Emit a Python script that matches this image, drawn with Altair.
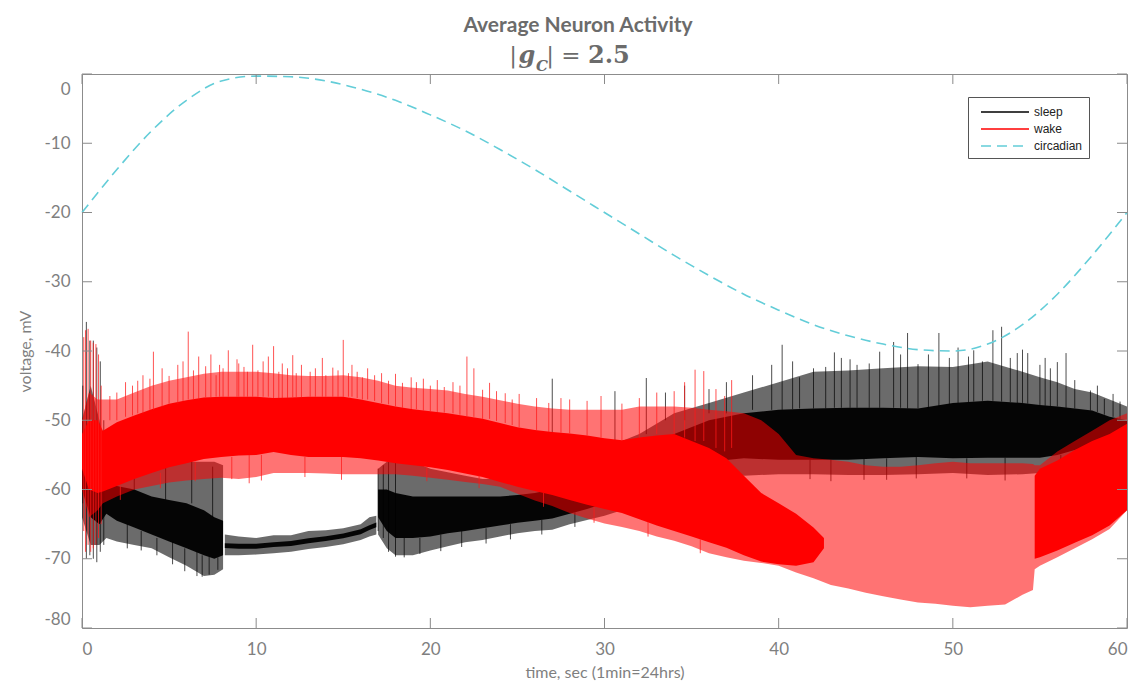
import altair as alt
import pandas as pd

# ---------------- data ----------------
x_ticks = [0, 10, 20, 30, 40, 50, 60]
y_ticks = [-80, -70, -60, -50, -40, -30, -20, -10, 0]

circ_t = [0, 2, 4, 6, 8, 10, 12, 14, 16, 18, 20, 22, 24, 26, 28, 30,
          32, 34, 36, 38, 40, 42, 44, 46, 48, 50, 52, 54, 56, 58, 60]
circ_v = [-20.0, -13.8, -8.2, -3.8, -1.0, -0.3, -0.4, -1.0, -2.2, -3.8, -5.9,
          -8.2, -10.9, -13.8, -16.9, -20.0, -23.1, -26.2, -29.1, -31.8, -34.1,
          -36.2, -37.8, -39.0, -39.8, -40.0, -39.0, -36.2, -31.8, -26.2, -20.0]

# sleep trace: envelopes (outer = sparse hairy band, core = dense band)
sleep_seg = ["A"] * 12 + ["B"] * 11 + ["C"] * 34
sleep_t = [0.0, 0.5, 1.0, 1.4, 2, 3, 4, 5, 6, 7, 7.6, 8.1,
           8.2, 9, 10, 11, 12, 13, 14, 15, 16, 16.5, 16.9,
           17, 17.5, 18, 19, 20, 21, 22, 23, 24, 25, 26, 27, 28, 29, 30, 31,
           32, 34, 36, 38, 40, 42, 44, 46, 48, 50, 52, 54, 55, 56, 57, 58, 59, 60]
sleep_outer_lo = [-64, -68, -68, -67, -67.5, -68, -68.5, -69.8, -71, -72.5, -72.3, -71.5,
                  -69.5, -69.5, -69.4, -69.2, -69.0, -68.6, -68.3, -67.9, -67.3, -66.8, -66.5,
                  -66.5, -68.5, -69.5, -69.5, -68.8, -68.2, -67.6, -67.3, -66.8, -66.3,
                  -66.0, -65.8, -65.0, -64.4, -63.8, -63.0, -62.0, -60.0, -58.5, -58.0,
                  -57.8, -57.8, -57.9, -57.9, -57.8, -57.6, -57.9, -57.8, -57.6, -57.0,
                  -56.0, -55.3, -55.0, -55.0]
sleep_outer_hi = [-50, -45, -50, -56, -56, -56, -56, -56, -56, -56, -56, -56.5,
                  -66.5, -66.8, -67.0, -66.6, -66.6, -66.0, -65.9, -65.6, -65.0, -64.0, -63.8,
                  -57, -56, -55.5, -56, -57, -57.5, -58, -58.5, -58.5, -58.5,
                  -58.5, -58.2, -57.5, -56.5, -55, -53, -52, -49, -47.5, -46,
                  -44.5, -43, -42.8, -42.5, -42.2, -42.3, -41.5, -43, -43.8, -44.5,
                  -45.5, -46, -47, -48]
sleep_core_lo = [-60, -64, -65, -63.5, -64.5, -65.5, -66.5, -67.5, -68.5, -69.5, -70, -69.5,
                 -68.45, -68.55, -68.55, -68.3, -68.15, -67.75, -67.45, -67.05, -66.45, -65.85, -65.45,
                 -64, -66, -67, -67, -66.8, -66.3, -66, -65.6, -65.2, -64.8,
                 -64.5, -64.2, -63.5, -62.8, -62, -61, -59, -57, -56, -55.5,
                 -55.7, -55.7, -55.7, -55.5, -55.3, -55.5, -55.4, -55.4, -55.4, -55,
                 -54.3, -53.8, -53.7, -53.5]
sleep_core_hi = [-55, -52, -55, -58.5, -59.5, -60, -61, -61.5, -62, -63, -64, -64.5,
                 -67.75, -67.85, -67.85, -67.6, -67.45, -67.05, -66.75, -66.35, -65.75, -65.15, -64.75,
                 -60, -60, -60.5, -61, -61, -61, -61, -61, -61, -60.8,
                 -60.5, -60, -59.5, -59, -58, -57, -55, -52, -50, -49,
                 -48.5, -48.3, -48.2, -48.2, -48.3, -47.5, -47.2, -47.5, -47.8, -48,
                 -48.3, -48.6, -49.5, -50]

sleep_spike_t = [0.05, 0.25, 0.45, 0.65, 0.85, 1.05, 1.25, 17.0, 17.3, 17.6, 18.0,
                 27.0, 30.6, 32.4, 33.5, 34.6, 36.0, 37.0, 38.5, 40.2, 41.2, 42.0,
                 42.7, 43.6, 44.5, 45.2, 45.8, 46.6, 47.4, 48.0, 48.6, 49.2, 49.8,
                 50.3, 51.2, 51.7, 52.3, 52.8, 53.3, 53.7, 54.3, 55.0, 55.6, 56.5,
                 57.0, 57.9, 58.7, 59.6,
                 2.6, 3.4, 4.3, 5.2, 5.9, 6.6, 6.9, 7.3, 7.8,
                 3.0, 4.8, 6.3, 7.5,
                 18.5, 19.4, 20.6, 21.8, 23.2, 24.6, 26.4, 28.3,
                 41.8, 43.0, 44.9, 46.2, 47.9, 50.8, 53.0, 56.2,
                 39.6, 40.8, 43.2, 44.1, 47.0, 50.9, 54.0, 55.3, 56.0, 58.3, 59.2]
sleep_spike_lo = [-62, -70, -69.5, -70, -70.5, -69, -68, -66, -67, -69, -69.7,
                  -58, -55, -52, -50, -50, -49, -49, -48.5, -48.5, -48.3, -48.3,
                  -48.3, -48.2, -48.2, -48.2, -48.2, -48.2, -48.3, -48.3, -48.3, -48, -47.8,
                  -47.5, -47.3, -47.2, -47.2, -47.3, -47.4, -47.5, -47.6, -47.8, -48, -48.2,
                  -48.3, -48.6, -49.2, -49.8,
                  -65, -66, -67, -67.5, -68.5, -69, -69.5, -69.7, -69.8,
                  -60, -61.5, -62, -64,
                  -67, -67, -66.5, -66, -65.6, -65, -64.4, -63.3,
                  -55.7, -55.7, -55.6, -55.5, -55.3, -55.5, -55.4, -55,
                  -48.5, -48.4, -48.2, -48.2, -48.2, -47.4, -47.5, -47.9, -48, -48.8, -49.5]
sleep_spike_hi = [-45, -35.8, -38.5, -38.5, -39.5, -41.5, -50, -57, -56.5, -56, -56,
                  -44, -45.8, -43.9, -46, -45, -45.5, -44.5, -43.5, -39.1, -43.8, -42.5,
                  -42.3, -41, -42, -41.8, -40.1, -38.7, -37.4, -41.9, -40.5, -37.4, -41.0,
                  -39.5, -39.9, -41.5, -37.0, -36.5, -41, -40.3, -40.3, -42.0, -42.5, -40.3,
                  -44.2, -45.7, -46.9, -47.3,
                  -68.5, -68.8, -69.5, -70.8, -71.8, -72.5, -72.6, -72.3, -71.6,
                  -56.5, -56.5, -55.8, -56.7,
                  -69.8, -69.3, -68.9, -68.3, -67.8, -67.2, -66.5, -65.4,
                  -58.5, -58.8, -58.6, -58.6, -58.4, -58.4, -58.7, -57.9,
                  -42, -41.5, -40.2, -41.2, -40.5, -40.8, -39.8, -41.0, -41.6, -45.0, -46.2]

# wake trace
wake_t = [0, 0.4, 0.9, 1.2, 2, 3, 4, 5, 6, 7, 8, 9, 10, 11, 12, 13, 14, 15, 16, 17,
          18, 19, 20, 21, 22, 23, 24, 25, 26, 27, 28, 29, 30, 31, 32, 33, 34, 35, 36,
          37, 38, 39, 40, 41, 42, 43, 44, 45, 46, 47, 48, 49, 50, 51, 52, 53, 54,
          54.6, 54.7, 55, 56, 57, 58, 59, 60]
wake_outer_lo = [-60, -64, -63, -62, -61, -60, -59.5, -59, -58.7, -58.5, -58.3, -58.5,
                 -58.2, -57.6, -57.6, -57.6, -57.7, -57.8, -57.8, -57.8, -57.8, -58,
                 -58.3, -58.6, -58.9, -59.2, -59.6, -60.6, -61.6, -62.4, -63.4, -64.2,
                 -64.9, -65.4, -66, -66.8, -67.4, -68.2, -69.2, -69.8, -70.3, -70.6,
                 -71, -72, -72.8, -73.8, -74.3, -74.9, -75.4, -75.9, -76.3, -76.5,
                 -76.8, -77, -76.8, -76.6, -75.2, -74.5, -71.5, -71, -69.8, -68.5,
                 -67.2, -65.7, -63]
wake_outer_hi = [-50, -46, -47, -47, -47, -46, -45, -44.3, -43.8, -43.3, -43, -43,
                 -43, -43.2, -43.5, -43.6, -43.6, -43.5, -43.8, -44.3, -45, -45.3,
                 -45.5, -45.7, -46.2, -46.6, -47.1, -47.6, -48, -48.3, -48.5, -48.5,
                 -48.5, -48.5, -48, -48, -48, -48.2, -48.5, -48.7, -49, -50,
                 -52, -55, -55.5, -55.7, -56, -56.5, -56.7, -56.7, -56.5, -56.2,
                 -56, -56.2, -56.2, -56.2, -56.2, -56.3, -56.5, -56.5, -54.5, -53,
                 -51.5, -50, -49]

wake_core_seg = ["W1"] * 46 + ["W2"] * 7
wake_core_t = [0, 0.4, 0.9, 1.2, 2, 3, 4, 5, 6, 7, 8, 9, 10, 11, 12, 13, 14, 15, 16, 17,
               18, 19, 20, 21, 22, 23, 24, 25, 26, 27, 28, 29, 30, 31, 32, 33, 34, 35,
               36, 37, 38, 39, 40, 41, 42, 42.6,
               54.7, 55, 56, 57, 58, 59, 60]
wake_core_lo = [-57, -60, -60.5, -60.3, -59.5, -58.5, -57.6, -56.8, -56.2, -55.6, -55.3,
                -55.1, -55, -54.6, -55, -55.3, -55.3, -55.3, -55.5, -55.8, -56.2, -56.5,
                -56.8, -57.2, -57.7, -58.2, -58.9, -59.6, -60.2, -60.8, -61.5, -62.2,
                -62.8, -63.4, -64.3, -65.2, -66, -66.8, -67.6, -68.4, -69.5, -70.4,
                -70.8, -71, -70.5, -68.5,
                -70, -69.8, -68.8, -67.7, -66.6, -65.2, -63]
wake_core_hi = [-52, -50, -50, -51.5, -50.3, -49.3, -48.4, -47.6, -47.1, -46.7, -46.6,
                -46.6, -46.6, -46.8, -46.7, -46.6, -46.6, -46.6, -47, -47.5, -48, -48.4,
                -48.7, -49, -49.4, -49.8, -50.4, -51, -51.4, -51.7, -51.9, -52.2,
                -52.6, -52.9, -52.5, -52.2, -52, -53, -54, -55.5, -58, -60.5,
                -62, -63.5, -65.5, -67,
                -58, -57, -55.8, -54.3, -53, -52, -50.5]

wake_spike_t = [0.1, 0.2, 0.35, 0.5, 0.65, 0.8, 0.95, 1.1, 1.6, 2.5, 3.5, 4.1, 4.6,
                5.5, 6.1, 6.7, 7.4, 7.9, 8.4, 8.9, 9.3, 9.8, 10.4, 11.0, 11.5, 12.1,
                12.6, 13.4, 13.8, 14.4, 15.0, 15.5, 16.4, 17.2, 18.0, 18.9, 19.6, 20.4,
                21.3, 22.1, 22.5, 23.4, 24.3, 25.1, 26.1, 28.0, 29.8, 33.0, 35.2, 35.7,
                37.3, 9.6,
                2.0, 2.9, 3.2, 3.9, 5.0, 5.8, 6.4, 7.1, 7.7, 8.1, 9.0, 9.5, 10.1, 10.7,
                11.3, 11.8, 12.3, 13.1, 14.0, 14.7, 15.3, 15.8, 16.1, 16.8, 17.6, 18.4,
                19.2, 20.0, 20.8, 21.7, 23.0, 23.8, 24.7, 26.8, 27.5, 29.0, 31.0, 32.0,
                34.0, 34.6, 36.4, 36.9,
                2.2, 4.5, 6.5, 8.6, 10.3, 12.8, 14.9, 19.8, 22.8, 26.5, 29.4, 32.5, 35.5]
wake_spike_lo = [-66, -69, -68, -69, -68.5, -68, -67, -65, -50, -49.5, -49, -48.5, -48,
                 -47.6, -47, -47, -46.7, -46.6, -46.6, -46.6, -46.6, -46.6, -46.6, -46.8,
                 -46.8, -46.7, -46.7, -46.6, -46.6, -46.6, -46.6, -46.6, -47, -47.5, -48,
                 -48.4, -48.6, -48.8, -49, -49.4, -49.5, -49.8, -50.4, -51, -51.4, -51.9,
                 -52.5, -52, -53, -53, -54, -55,
                 -50, -49.3, -49, -48.5, -47.6, -47.2, -47, -46.7, -46.6, -46.6, -46.6,
                 -46.6, -46.6, -46.6, -46.8, -46.8, -46.7, -46.6, -46.6, -46.6, -46.6,
                 -46.8, -47, -47.2, -47.7, -48.2, -48.4, -48.7, -48.9, -49.2, -49.8,
                 -50.1, -50.7, -51.7, -51.8, -52.2, -52.9, -52.5, -52, -52.5, -54, -54.5,
                 -59.5, -57.6, -56, -55.3, -55, -55.3, -55.3, -56.8, -58, -60.5, -62.5,
                 -64.7, -67.2]
wake_spike_hi = [-38, -37, -36.8, -38.5, -38.8, -39, -40.5, -45, -46.5, -44.5, -43.5,
                 -40.1, -42.5, -42.0, -37.2, -40.8, -40.5, -42, -39.9, -41.2, -42.3,
                 -39.1, -41.5, -39.3, -41.8, -40.6, -42, -42.5, -41.0, -42.4, -38.4,
                 -42, -42.5, -43.2, -43.3, -43.8, -44.0, -44.2, -44.5, -40.8, -42.5,
                 -44.6, -46.1, -46.2, -46.8, -47.0, -46.5, -46.0, -42.7, -42.9, -44.2,
                 -59.1,
                 -46, -45.0, -44.3, -44.0, -43.6, -41.5, -42.8, -42.2, -43.5, -42.5,
                 -41.8, -43, -42.8, -40.8, -43, -42.5, -43.2, -43, -43.5, -42.8, -43.2,
                 -43.0, -43.8, -43.5, -44.3, -44.6, -44.5, -45.0, -45.2, -45.0, -45.6,
                 -45.8, -47.0, -47.5, -46.8, -47.2, -47.6, -46.8, -45.8, -44.5, -45.5,
                 -46.5,
                 -61.5, -59.8, -58.8, -58.5, -58.7, -58.2, -58.6, -58.8, -59.8, -62.5,
                 -64.8, -66.8, -69.2]

series_names = ["sleep", "wake", "circadian"]
series_colors = ["#000000", "#ff0000", "#63cdd8"]

# ---------------- tables ----------------
sleep_df = pd.DataFrame({"t": sleep_t, "seg": sleep_seg, "olo": sleep_outer_lo,
                         "ohi": sleep_outer_hi, "clo": sleep_core_lo, "chi": sleep_core_hi})
sleep_sp = pd.DataFrame({"t": sleep_spike_t, "lo": sleep_spike_lo, "hi": sleep_spike_hi})
wake_df = pd.DataFrame({"t": wake_t, "olo": wake_outer_lo, "ohi": wake_outer_hi})
wake_core = pd.DataFrame({"t": wake_core_t, "seg": wake_core_seg,
                          "clo": wake_core_lo, "chi": wake_core_hi})
wake_sp = pd.DataFrame({"t": wake_spike_t, "lo": wake_spike_lo, "hi": wake_spike_hi})
circ_df = pd.DataFrame({"t": circ_t, "v": circ_v, "series": ["circadian"] * len(circ_t)})
xt_df = pd.DataFrame({"t": x_ticks})
yt_df = pd.DataFrame({"v": y_ticks})

W, H = 1045, 554
GRAY = "#7f7f7f"
TICK = "#8a8a8a"

x_scale = alt.Scale(domain=[0, 60], nice=False, zero=False)
y_scale = alt.Scale(domain=[-80, 0], nice=False, zero=False)

x_axis = alt.Axis(values=x_ticks, title="time, sec (1min=24hrs)", domain=False, ticks=False,
                  grid=False, labelFont="Lato", labelFontSize=17, labelColor=GRAY,
                  labelPadding=13, titleFont="Lato", titleFontSize=16, titleColor=GRAY,
                  titleFontWeight="normal", titlePadding=7)
y_axis = alt.Axis(values=y_ticks, title="voltage, mV", domain=False, ticks=False,
                  grid=False, labelFont="Lato", labelFontSize=17, labelColor=GRAY,
                  labelPadding=12, labelFlush=True, labelExpr="'' + datum.value",
                  labelOffset=alt.condition("datum.value == 0", alt.value(7), alt.value(0)),
                  titleFont="Lato", titleFontSize=16, titleColor=GRAY,
                  titleFontWeight="normal", titlePadding=10)


def X(field="t"):
    return alt.X(f"{field}:Q", scale=x_scale, axis=x_axis)


def Y(field):
    return alt.Y(f"{field}:Q", scale=y_scale, axis=y_axis)


sleep_outer = alt.Chart(sleep_df).mark_area(color="#000000", opacity=0.58).encode(
    x=X(), y=Y("olo"), y2="ohi:Q", detail="seg:N")
sleep_core_l = alt.Chart(sleep_df).mark_area(color="#000000", opacity=0.95).encode(
    x=X(), y=Y("clo"), y2="chi:Q", detail="seg:N")
sleep_spikes = alt.Chart(sleep_sp).mark_rule(color="#000000", strokeWidth=1, opacity=0.7).encode(
    x=X(), y=Y("lo"), y2="hi:Q")

wake_outer = alt.Chart(wake_df).mark_area(color="#ff0000", opacity=0.55).encode(
    x=X(), y=Y("olo"), y2="ohi:Q")
wake_core_l = alt.Chart(wake_core).mark_area(color="#ff0000", opacity=1).encode(
    x=X(), y=Y("clo"), y2="chi:Q", detail="seg:N")
wake_spikes = alt.Chart(wake_sp).mark_rule(color="#ff1a1a", strokeWidth=1, opacity=0.75).encode(
    x=X(), y=Y("lo"), y2="hi:Q")

leg = alt.Legend(title=None, orient="none", legendX=886, legendY=23,
                 symbolType="M-3,0H3", symbolSize=256, symbolStrokeWidth=1.5,
                 labelFont="Liberation Sans", labelFontSize=12, labelColor="#222222",
                 strokeColor="#555555", fillColor="#ffffff", padding=6, rowPadding=2,
                 symbolOffset=22, labelOffset=20)

circ = alt.Chart(circ_df).mark_line(strokeWidth=1.6, interpolate="monotone").encode(
    x=X(), y=Y("v"),
    color=alt.Color("series:N", scale=alt.Scale(domain=series_names, range=series_colors),
                    legend=leg),
    strokeDash=alt.StrokeDash("series:N",
                              scale=alt.Scale(domain=series_names,
                                              range=[[1, 0], [1, 0], [10, 6]]),
                              legend=leg))

tick_bottom = alt.Chart(xt_df).mark_rule(color=TICK, strokeWidth=1).encode(
    x=X(), y=alt.value(H), y2=alt.value(H - 10))
tick_top = alt.Chart(xt_df).mark_rule(color=TICK, strokeWidth=1).encode(
    x=X(), y=alt.value(0), y2=alt.value(10))
tick_left = alt.Chart(yt_df).mark_rule(color=TICK, strokeWidth=1).encode(
    y=Y("v"), x=alt.value(0), x2=alt.value(10))
tick_right = alt.Chart(yt_df).mark_rule(color=TICK, strokeWidth=1).encode(
    y=Y("v"), x=alt.value(W - 10), x2=alt.value(W))

TCOL = "#6b6b6b"
title_main = alt.Chart(pd.DataFrame({"s": ["Average Neuron Activity"]})).mark_text(
    font="Lato", fontSize=21, fontWeight="bold", color=TCOL, align="center",
    baseline="alphabetic").encode(x=alt.value(496), y=alt.value(-42), text="s:N")
sub_bar1 = alt.Chart(pd.DataFrame({"s": ["|"]})).mark_text(
    font="DejaVu Serif", fontSize=23, color=TCOL, align="center",
    baseline="alphabetic").encode(x=alt.value(431), y=alt.value(-11), text="s:N")
sub_g = alt.Chart(pd.DataFrame({"s": ["g"]})).mark_text(
    font="DejaVu Serif", fontSize=24, fontStyle="italic", fontWeight="bold", color=TCOL,
    align="center", baseline="alphabetic").encode(x=alt.value(445), y=alt.value(-11), text="s:N")
sub_c = alt.Chart(pd.DataFrame({"s": ["C"]})).mark_text(
    font="DejaVu Serif", fontSize=15, fontStyle="italic", fontWeight="bold", color=TCOL,
    align="center", baseline="alphabetic").encode(x=alt.value(460), y=alt.value(-3), text="s:N")
sub_bar2 = alt.Chart(pd.DataFrame({"s": ["|"]})).mark_text(
    font="DejaVu Serif", fontSize=23, color=TCOL, align="center",
    baseline="alphabetic").encode(x=alt.value(468), y=alt.value(-11), text="s:N")
sub_eq = alt.Chart(pd.DataFrame({"s": ["="]})).mark_text(
    font="DejaVu Serif", fontSize=23, color=TCOL, align="center",
    baseline="alphabetic").encode(x=alt.value(489), y=alt.value(-11), text="s:N")
sub_num = alt.Chart(pd.DataFrame({"s": ["2.5"]})).mark_text(
    font="DejaVu Serif", fontSize=24, fontWeight="bold", color=TCOL, align="left",
    baseline="alphabetic").encode(x=alt.value(506), y=alt.value(-11), text="s:N")

chart = alt.layer(
    sleep_outer, sleep_core_l, sleep_spikes,
    wake_outer, wake_core_l, wake_spikes,
    circ,
    tick_bottom, tick_top, tick_left, tick_right,
    title_main, sub_bar1, sub_g, sub_c, sub_bar2, sub_eq, sub_num,
).properties(
    width=W, height=H,
    autosize=alt.AutoSizeParams(type="none"),
    padding={"left": 82, "top": 74, "right": 18, "bottom": 57},
    background="#ffffff",
).configure_view(stroke="#8c8c8c", strokeWidth=1)

chart.save("out.html", embed_options={"renderer": "svg", "actions": False})
